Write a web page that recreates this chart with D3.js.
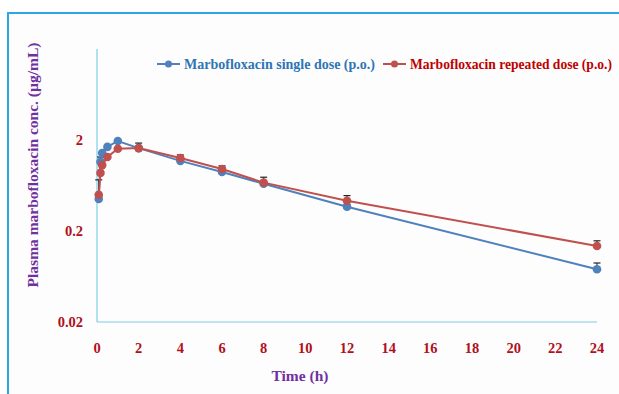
<!DOCTYPE html>
<html>
<head>
<meta charset="utf-8">
<script src="https://cdn.jsdelivr.net/npm/d3@7.9.0/dist/d3.min.js"></script>
<style>
  body { margin: 0; background: #fff; }
  svg { display: block; }
  .tick-label { font-family: "Liberation Serif", serif; font-weight: bold; font-size: 14.5px; fill: #b01020; }
  .axis-title { font-family: "Liberation Serif", serif; font-weight: bold; font-size: 15.5px; fill: #7030a0; }
  .legend-text { font-family: "Liberation Serif", serif; font-weight: bold; font-size: 14px; }
</style>
</head>
<body>
<svg id="chart" width="619" height="394"></svg>
<script>
// sampling times (h)
const times = [0.083, 0.167, 0.25, 0.5, 1, 2, 4, 6, 8, 12, 24];

// mean plasma concentration (ug/mL)
const singleDose = [0.45, 1.15, 1.44, 1.68, 1.95, 1.63, 1.18, 0.89, 0.66, 0.37, 0.076];
const repeatedDose = [0.50, 0.87, 1.06, 1.30, 1.60, 1.63, 1.27, 0.96, 0.68, 0.43, 0.137];

// upper error (SD)
const singleSD = [0.02, 0.15, 0.03, 0.03, 0.03, 0.05, 0.04, 0.04, 0.03, 0.02, 0.013];
const repeatedSD = [0.23, 0.03, 0.03, 0.03, 0.03, 0.22, 0.10, 0.08, 0.10, 0.06, 0.019];

const xTicks = d3.range(0, 25, 2);
const yTicks = [0.02, 0.2, 2];

const series = [
  { name: 'Marbofloxacin single dose (p.o.)', values: singleDose, sd: singleSD, color: '#4f81bd', text: '#2e75b6' },
  { name: 'Marbofloxacin repeated dose (p.o.)', values: repeatedDose, sd: repeatedSD, color: '#c0504d', text: '#c00000' }
];

const svg = d3.select('#chart');

// frame
svg.append('rect').attr('x', 0).attr('y', 0).attr('width', 619).attr('height', 394).attr('fill', '#fff');
svg.append('rect')
  .attr('x', 8).attr('y', 13).attr('width', 640).attr('height', 420)
  .attr('fill', '#fdfdfd').attr('stroke', '#29a9e0').attr('stroke-width', 2);

const x = d3.scaleLinear().domain([0, 24]).range([97, 597]);
const y = d3.scaleLog().domain([0.02, 20]).range([322, 49]);

const axisColor = '#7fcde6';
svg.append('line').attr('x1', x(0)).attr('x2', x(0)).attr('y1', y(20)).attr('y2', y(0.02))
  .attr('stroke', axisColor).attr('stroke-width', 1.2);
svg.append('line').attr('x1', x(0)).attr('x2', x(24)).attr('y1', y(0.02)).attr('y2', y(0.02))
  .attr('stroke', axisColor).attr('stroke-width', 1.2);

svg.selectAll('.xt').data(xTicks).join('text')
  .attr('class', 'tick-label')
  .attr('x', d => x(d)).attr('y', 353)
  .attr('text-anchor', 'middle')
  .text(d => d);

svg.selectAll('.yt').data(yTicks).join('text')
  .attr('class', 'tick-label')
  .attr('x', 83).attr('y', d => y(d) + 5)
  .attr('text-anchor', 'end')
  .text(d => d);

svg.append('text').attr('class', 'axis-title')
  .attr('x', 300).attr('y', 381).attr('text-anchor', 'middle')
  .text('Time (h)');

svg.append('text').attr('class', 'axis-title')
  .attr('transform', 'translate(38,165) rotate(-90)')
  .attr('text-anchor', 'middle')
  .text('Plasma marbofloxacin conc. (µg/mL)');

const line = d3.line().x(d => x(d.t)).y(d => y(d.v));

series.forEach(s => {
  const pts = times.map((t, i) => ({ t, v: s.values[i], sd: s.sd[i] }));
  const g = svg.append('g');
  // error bars (upper only)
  pts.forEach(p => {
    g.append('line').attr('x1', x(p.t)).attr('x2', x(p.t))
      .attr('y1', y(p.v)).attr('y2', y(p.v + p.sd))
      .attr('stroke', '#222').attr('stroke-width', 1);
    g.append('line').attr('x1', x(p.t) - 3.5).attr('x2', x(p.t) + 3.5)
      .attr('y1', y(p.v + p.sd)).attr('y2', y(p.v + p.sd))
      .attr('stroke', '#222').attr('stroke-width', 1.2);
  });
  g.append('path').datum(pts).attr('d', line)
    .attr('fill', 'none').attr('stroke', s.color).attr('stroke-width', 2);
  g.selectAll('circle').data(pts).join('circle')
    .attr('cx', d => x(d.t)).attr('cy', d => y(d.v)).attr('r', 4.3)
    .attr('fill', s.color);
});

// legend
const legendPos = [157, 383];
const legendLen = [191, 202];
series.forEach((s, i) => {
  const lx = legendPos[i];
  svg.append('line').attr('x1', lx).attr('x2', lx + 23).attr('y1', 64).attr('y2', 64)
    .attr('stroke', s.color).attr('stroke-width', 2);
  svg.append('circle').attr('cx', lx + 11.5).attr('cy', 64).attr('r', 3.5).attr('fill', s.color);
  svg.append('text').attr('class', 'legend-text')
    .attr('x', lx + 27).attr('y', 68.5)
    .attr('fill', s.text)
    .attr('textLength', legendLen[i])
    .attr('lengthAdjust', 'spacingAndGlyphs')
    .text(s.name);
});
</script>
</body>
</html>
